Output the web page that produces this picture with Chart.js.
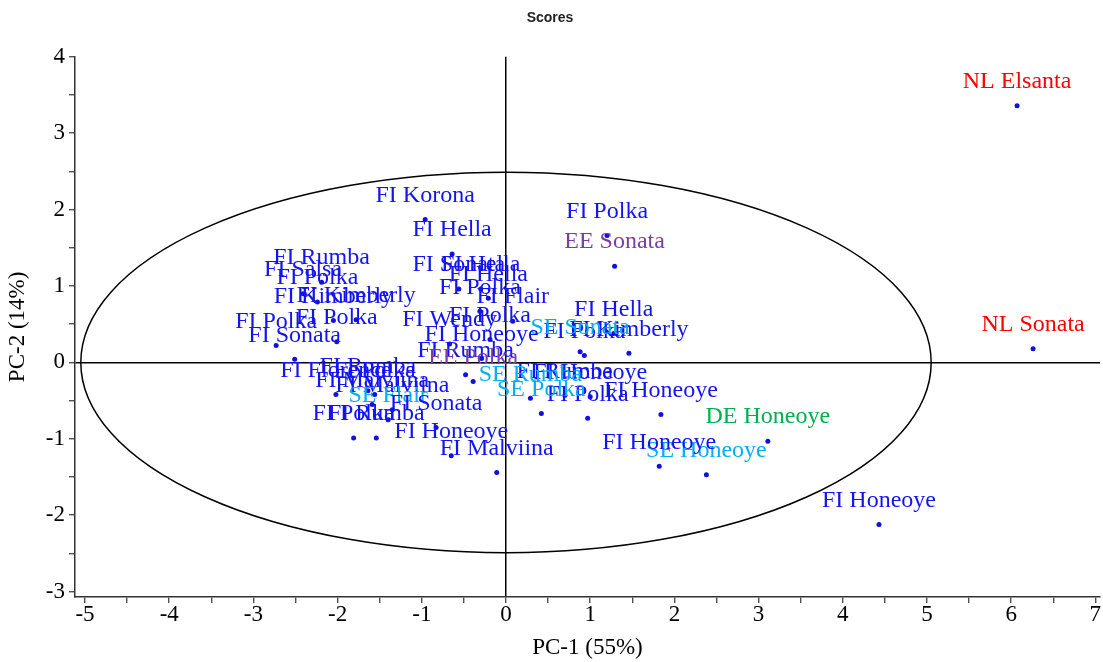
<!DOCTYPE html>
<html>
<head>
<meta charset="utf-8">
<script src="https://cdn.jsdelivr.net/npm/chart.js@4/dist/chart.umd.min.js"></script>
<style>
  body { margin: 0; background: #fff; }
  #box { width: 1103px; height: 662px; }
</style>
</head>
<body>
<div id="box"><canvas id="scoresChart"></canvas></div>
<script>
// PCA scores (PC-1 / PC-2)
const sampleNames = [
  'NL Elsanta', 'NL Sonata', 'DE Honeoye', 'FI Honeoye', 'SE Honeoye',
  'FI Honeoye', 'FI Honeoye', 'FI Polka', 'FI Kimberly', 'FI Hella',
  'FI Polka', 'SE Sonata', 'FI Polka', 'EE Sonata', 'FI Rumba',
  'FI Honeoye', 'SE Rumba', 'SE Polka', 'FI Sonata', 'FI Hella',
  'FI Hella', 'FI Polka', 'FI Flair', 'FI Polka', 'FI Wendy',
  'FI Honeoye', 'FI Rumba', 'EE Polka', 'FI Korona', 'FI Hella',
  'FI Rumba', 'FI Salsa', 'FI Polka', 'FI Kimberly', 'FI Kimberly',
  'FI Polka', 'FI Polka', 'FI Sonata', 'FI Florence', 'FI Rumba',
  'FI Polka', 'FI Malviina', 'FI Malviina', 'SE Flair', 'FI Sonata',
  'FI Polka', 'FI Rumba', 'FI Honeoye', 'FI Malviina'
];
const pc1Scores = [
  6.07, 6.26, 3.11, 4.43, 2.38,
  1.82, 1.84, 0.97, 1.46, 1.28,
  0.93, 0.88, 1.20, 1.29, 0.70,
  1.00, 0.29, 0.42, -0.56, -0.30,
  -0.21, -0.31, 0.08, -0.19, -0.67,
  -0.29, -0.48, -0.39, -0.96, -0.64,
  -2.19, -2.41, -2.24, -2.05, -1.78,
  -2.01, -2.73, -2.51, -2.02, -1.64,
  -1.56, -1.59, -1.35, -1.40, -0.83,
  -1.81, -1.54, -0.65, -0.11
];
const pc2Scores = [
  3.36, 0.18, -1.03, -2.12, -1.47,
  -1.36, -0.68, -0.73, 0.12, 0.38,
  0.09, 0.14, 1.66, 1.26, -0.43,
  -0.45, -0.47, -0.67, 0.96, 0.96,
  0.84, 0.67, 0.54, 0.30, 0.24,
  0.05, -0.16, -0.25, 1.87, 1.42,
  1.05, 0.90, 0.79, 0.55, 0.56,
  0.27, 0.22, 0.04, -0.42, -0.37,
  -0.42, -0.55, -0.62, -0.75, -0.85,
  -0.99, -0.99, -1.22, -1.44
];
// Hotelling ellipse radii
const ellipseRadiusX = 5.05;
const ellipseRadiusY = 2.49;

const countryColors = {
  FI: '#1414f0',
  SE: '#00b0f0',
  EE: '#7a3ea3',
  NL: '#ff0000',
  DE: '#00b050'
};

const serif = "'Liberation Serif', 'Times New Roman', serif";

const points = pc1Scores.map((x, i) => ({ x: x, y: pc2Scores[i] }));

// ellipse, drawn under the points
const ellipsePlugin = {
  id: 'ellipse',
  beforeDatasetsDraw(chart) {
    const xs = chart.scales.x, ys = chart.scales.y;
    const cx = xs.getPixelForValue(0), cy = ys.getPixelForValue(0);
    const rx = xs.getPixelForValue(ellipseRadiusX) - cx;
    const ry = cy - ys.getPixelForValue(ellipseRadiusY);
    const ctx = chart.ctx;
    ctx.save();
    ctx.beginPath();
    ctx.ellipse(cx, cy, rx, ry, 0, 0, Math.PI * 2);
    ctx.strokeStyle = '#000';
    ctx.lineWidth = 1.5;
    ctx.stroke();
    ctx.restore();
  }
};

// sample names above each point
const labelPlugin = {
  id: 'pointLabels',
  afterDatasetsDraw(chart) {
    const ctx = chart.ctx;
    const meta = chart.getDatasetMeta(0);
    ctx.save();
    ctx.font = '24px ' + serif;
    ctx.textAlign = 'center';
    ctx.textBaseline = 'middle';
    meta.data.forEach((pt, i) => {
      const name = sampleNames[i];
      ctx.fillStyle = countryColors[name.slice(0, 2)] || '#1414f0';
      ctx.fillText(name, pt.x, pt.y - 24);
    });
    ctx.restore();
  }
};

const zeroLine = c => (c.tick && c.tick.value === 0) ? '#000' : 'rgba(0,0,0,0)';

const config = {
  type: 'scatter',
  data: {
    datasets: [{
      data: points,
      backgroundColor: '#1010e0',
      borderWidth: 0,
      pointRadius: 2.5,
      pointHoverRadius: 2.5
    }]
  },
  options: {
    responsive: true,
    maintainAspectRatio: false,
    animation: false,
    layout: { padding: { left: 0, right: 3, top: 0, bottom: 0 } },
    plugins: {
      legend: { display: false },
      tooltip: { enabled: false },
      title: {
        display: true,
        text: 'Scores',
        color: '#222',
        font: { family: "'Liberation Sans', Arial, sans-serif", size: 14, weight: 'bold' },
        padding: { top: 10, bottom: 30 }
      }
    },
    scales: {
      x: {
        type: 'linear',
        min: -5.119,
        max: 7.055,
        afterFit: scale => { scale.height = 65; },
        ticks: {
          stepSize: 0.5,
          includeBounds: false,
          autoSkip: false,
          maxRotation: 0,
          padding: -2,
          color: '#000',
          font: { family: serif, size: 23 },
          callback: v => Number.isInteger(v) ? String(v) : ''
        },
        grid: {
          color: zeroLine,
          lineWidth: 1.5,
          tickColor: '#333',
          tickLength: 6,
          tickWidth: 1.2
        },
        border: { display: true, color: '#333', width: 1.5 },
        title: {
          display: true,
          text: 'PC-1 (55%)',
          color: '#000',
          font: { family: serif, size: 23 },
          padding: { top: 0, bottom: 0 }
        }
      },
      y: {
        type: 'linear',
        min: -3.07,
        max: 4,
        afterFit: scale => { scale.width = 75; },
        ticks: {
          stepSize: 0.5,
          includeBounds: false,
          autoSkip: false,
          padding: 4,
          color: '#000',
          font: { family: serif, size: 23 },
          callback: v => Number.isInteger(v) ? String(v) : ''
        },
        grid: {
          color: zeroLine,
          lineWidth: 1.5,
          tickColor: '#333',
          tickLength: 6,
          tickWidth: 1.2
        },
        border: { display: true, color: '#333', width: 1.5 },
        title: {
          display: true,
          text: 'PC-2 (14%)',
          color: '#000',
          font: { family: serif, size: 23 },
          padding: { top: 4, bottom: 0 }
        }
      }
    }
  },
  plugins: [ellipsePlugin, labelPlugin]
};

const scoresChart = new Chart(document.getElementById('scoresChart'), config);
</script>
</body>
</html>
